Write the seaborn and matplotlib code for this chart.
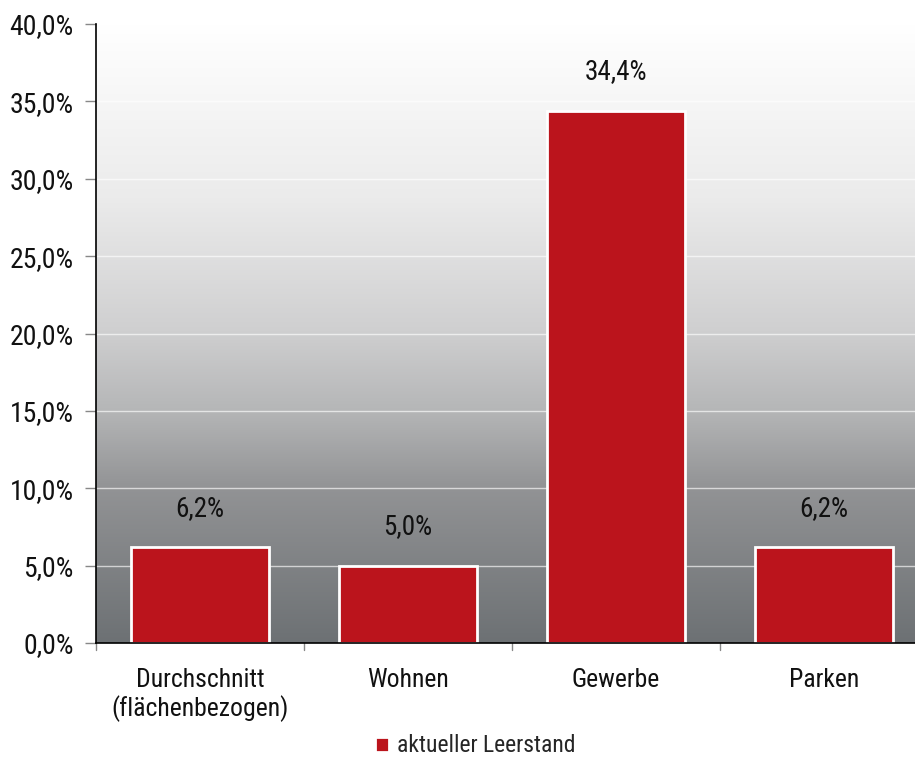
import numpy as np
import matplotlib
matplotlib.use("Agg")
import matplotlib.pyplot as plt
import seaborn as sns
from matplotlib import font_manager as fm
from matplotlib.colors import LinearSegmentedColormap

categories = ["Durchschnitt\n(flächenbezogen)", "Wohnen", "Gewerbe", "Parken"]
values = [6.2, 5.0, 34.4, 6.2]
value_labels = ["6,2%", "5,0%", "34,4%", "6,2%"]
yticks = [0, 5, 10, 15, 20, 25, 30, 35, 40]
ytick_labels = ["0,0%", "5,0%", "10,0%", "15,0%", "20,0%", "25,0%", "30,0%", "35,0%", "40,0%"]
legend_label = "aktueller Leerstand"

sns.set_style("white")
names = {f.name for f in fm.fontManager.ttflist}
fam = "Roboto Condensed" if "Roboto Condensed" in names else "Liberation Sans"
plt.rcParams["font.family"] = [fam, "DejaVu Sans"]
narrow = fam != "Liberation Sans"
FS_Y = 20 if narrow else 17
FS_X = 18.5 if narrow else 16
FS_V = 19.5 if narrow else 17
FS_L = 17 if narrow else 15

W, H = 915, 757
fig = plt.figure(figsize=(W / 100, H / 100), dpi=100)
left, right, top, bottom = 96, 928, 24, 643
ax = fig.add_axes([left / W, 1 - bottom / H, (right - left) / W, (bottom - top) / H])

# gradient background (white at top, dark gray at bottom)
cmap = LinearSegmentedColormap.from_list(
    "bg", [(0.0, "#ffffff"), (0.28, "#ebebeb"), (0.49, "#d0d0d1"), (0.62, "#b6b7b8"),
           (0.75, "#929395"), (1.0, "#6d7174")])
grad = np.linspace(0, 1, 256).reshape(-1, 1)
ax.imshow(grad, cmap=cmap, aspect="auto", extent=[-0.5, 3.5, 0, 40], zorder=0, origin="upper")

for y in yticks[1:-1]:
    ax.axhline(y, color="white", lw=1, alpha=0.65, zorder=1)

sns.barplot(x=categories, y=values, color="#bb141c", edgecolor="white", linewidth=2,
            width=0.66, saturation=1, label=legend_label, ax=ax, zorder=2)

for i, (v, lab) in enumerate(zip(values, value_labels)):
    ax.text(i, v + 2.5, lab, ha="center", va="center", fontsize=FS_V, color="#111111", zorder=3)

ax.set_xlim(-0.5, 3.5)
ax.set_ylim(0, 40)
ax.set_yticks(yticks)
ax.set_yticklabels(ytick_labels, fontsize=FS_Y, color="#111111")
ax.set_xticks(range(4))
ax.set_xticklabels(categories, fontsize=FS_X, linespacing=1.15, color="#111111")
ax.tick_params(axis="x", length=0, pad=18)
ax.tick_params(axis="y", length=8, color="#888888", width=1, pad=8, left=True)
for x in [-0.5, 0.5, 1.5, 2.5]:
    ax.plot([x, x], [0, -0.012], transform=ax.get_xaxis_transform(), color="#888888",
            lw=1, clip_on=False)

for s in ["top", "right"]:
    ax.spines[s].set_visible(False)
for s in ["left", "bottom"]:
    ax.spines[s].set_color("black")
    ax.spines[s].set_linewidth(1.2)
    ax.spines[s].set_zorder(4)
ax.set_xlabel("")
ax.set_ylabel("")

handles, labels = ax.get_legend_handles_labels()
if ax.get_legend() is not None:
    ax.get_legend().remove()
fig.legend(handles[:1], labels[:1], loc="center left", bbox_to_anchor=(358 / W, 1 - 746 / H),
           frameon=False, fontsize=FS_L, handlelength=0.6, handleheight=0.6, handletextpad=0.35,
           borderpad=0.2)

fig.savefig("out.png", dpi=100)
